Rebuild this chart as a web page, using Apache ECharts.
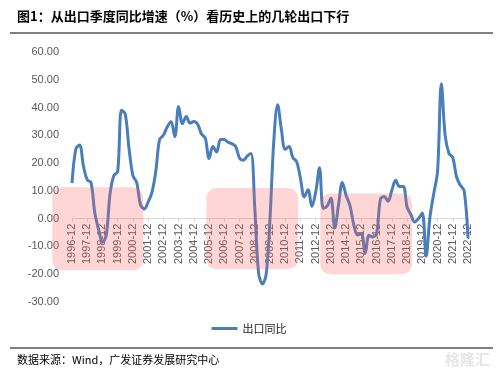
<!DOCTYPE html>
<html>
<head>
<meta charset="utf-8">
<script src="https://cdn.jsdelivr.net/npm/echarts@6/dist/echarts.min.js"></script>
<style>
  html, body { margin: 0; padding: 0; background: #fff; }
  #main { width: 498px; height: 376px; }
</style>
</head>
<body>
<div id="main"></div>
<script>
// 出口季度同比（%），1996-12 至 2022-12
var startYear = 1996;
var quarters = [];
for (var y = startYear; y <= 2022; y++) {
  ['03', '06', '09', '12'].forEach(function (m) {
    if (y === startYear && m !== '12') return;
    quarters.push(y + '-' + m);
  });
}

var exportYoy = [
  12.8,
  25.0, 26.5, 19.0, 14.0,
  13.0, 2.0, -4.0, -8.5,
  -6.0, 9.0, 15.5, 17.0,
  39.0, 37.5, 25.0, 15.5,
  13.0, 5.0, 3.5, 6.0,
  9.5, 17.0, 28.5, 30.0,
  33.0, 35.0, 29.5, 40.4,
  34.2, 36.8, 34.4, 35.0,
  34.0, 30.5, 29.0, 21.7,
  26.0, 24.0, 28.5, 28.5,
  27.5, 27.0, 26.0, 21.8,
  21.0, 22.5, 23.5, 4.0,
  -19.5, -23.5, -20.0, 0.0,
  28.0, 41.0, 32.0, 25.0,
  26.0, 22.0, 20.5, 14.5,
  7.8, 10.4, 4.4, 9.5,
  18.3, 3.7, 4.5, 7.4,
  -3.4, 5.0, 13.0, 8.3,
  4.7, -2.2, -5.9, -5.4,
  -12.5, -6.0, -6.6, -5.4,
  7.0, 8.0, 6.3, 10.2,
  13.8, 11.6, 11.6, 4.2,
  1.5, -1.2, 0.0, 2.0,
  -13.5, 0.5, 9.0, 17.0,
  48.6, 30.0, 23.5, 22.0,
  15.0, 12.0, 10.0, -7.0
];

// 出口下行阶段（季度序号区间 / 数值区间）
var downturns = [
  { from: -5.2, to: 18.7, top: 11.3, bottom: -18.6 },
  { from: 35.3, to: 59.4, top: 11.0, bottom: -18.2 },
  { from: 65.2, to: 89.3, top: 9.1, bottom: -20.0 }
];

var myChart = echarts.init(document.getElementById('main'));
var option = {
  backgroundColor: '#fff',
  animation: false,
  title: {
    text: '图1：从出口季度同比增速（%）看历史上的几轮出口下行',
    left: 12,
    top: 5,
    textStyle: { fontFamily: 'Noto Sans CJK SC', fontSize: 13, fontWeight: 'bold', color: '#000' }
  },
  legend: {
    data: ['出口同比'],
    top: 318,
    left: 'center',
    icon: 'rect',
    itemWidth: 26,
    itemHeight: 3,
    itemGap: 4,
    textStyle: { fontFamily: 'Noto Sans CJK SC', fontSize: 11, color: '#222' }
  },
  grid: { left: 72, right: 30, top: 52, bottom: 74 },
  xAxis: {
    type: 'category',
    data: quarters,
    boundaryGap: false,
    axisLine: { onZero: false, lineStyle: { color: '#d9d9d9', width: 1 } },
    axisTick: { show: true, interval: 3, length: 3, lineStyle: { color: '#d9d9d9' } },
    axisLabel: {
      interval: 3,
      rotate: 90,
      margin: 5,
      fontFamily: 'Liberation Sans',
      fontSize: 11,
      color: '#595959'
    },
    splitLine: { show: false }
  },
  yAxis: {
    type: 'value',
    min: -30,
    max: 60,
    interval: 10,
    axisLine: { show: false },
    axisTick: { show: false },
    splitLine: { show: false },
    axisLabel: {
      margin: 13,
      fontFamily: 'Liberation Sans',
      fontSize: 11,
      color: '#595959',
      formatter: function (v) { return v.toFixed(2); }
    }
  },
  series: [{
    name: '出口同比',
    type: 'line',
    data: exportYoy,
    smooth: 0.35,
    showSymbol: false,
    lineStyle: { color: '#4a7ebb', width: 3 },
    itemStyle: { color: '#4a7ebb' }
  }]
};
myChart.setOption(option);

// 横轴整体（含标签）移到 0 值处
var yZero = myChart.convertToPixel({ yAxisIndex: 0 }, 0);
var yMin = myChart.convertToPixel({ yAxisIndex: 0 }, -30);
myChart.setOption({ xAxis: { offset: -(yMin - yZero) } });

// 辅助：把季度序号（可为小数）和数值换成像素
function toPx(i, v) {
  var a = myChart.convertToPixel({ gridIndex: 0 }, [0, v]);
  var b = myChart.convertToPixel({ gridIndex: 0 }, [quarters.length - 1, v]);
  return [a[0] + (b[0] - a[0]) * i / (quarters.length - 1), a[1]];
}

var graphics = [
  { type: 'line', shape: { x1: 10, y1: 33, x2: 493, y2: 33 }, style: { stroke: '#000', lineWidth: 1.2 }, z: 100 },
  { type: 'line', shape: { x1: 10, y1: 348, x2: 493, y2: 348 }, style: { stroke: '#000', lineWidth: 1.2 }, z: 100 },
  { type: 'text', left: 17, top: 354, style: { text: '数据来源：Wind，广发证券发展研究中心', font: '11px "Noto Sans CJK SC"', fill: '#000' }, z: 100 },
  { type: 'text', right: 8, top: 352, style: { text: '格隆汇', font: 'bold 15px "Noto Sans CJK SC"', fill: '#e6e6e6' }, z: 100 }
];
downturns.forEach(function (d) {
  var p1 = toPx(d.from, d.top);
  var p2 = toPx(d.to, d.bottom);
  graphics.push({
    type: 'rect',
    shape: { x: p1[0], y: p1[1], width: p2[0] - p1[0], height: p2[1] - p1[1], r: 10 },
    style: { fill: 'rgba(255, 90, 90, 0.25)' },
    z: 100
  });
});
myChart.setOption({ graphic: graphics });
</script>
</body>
</html>
